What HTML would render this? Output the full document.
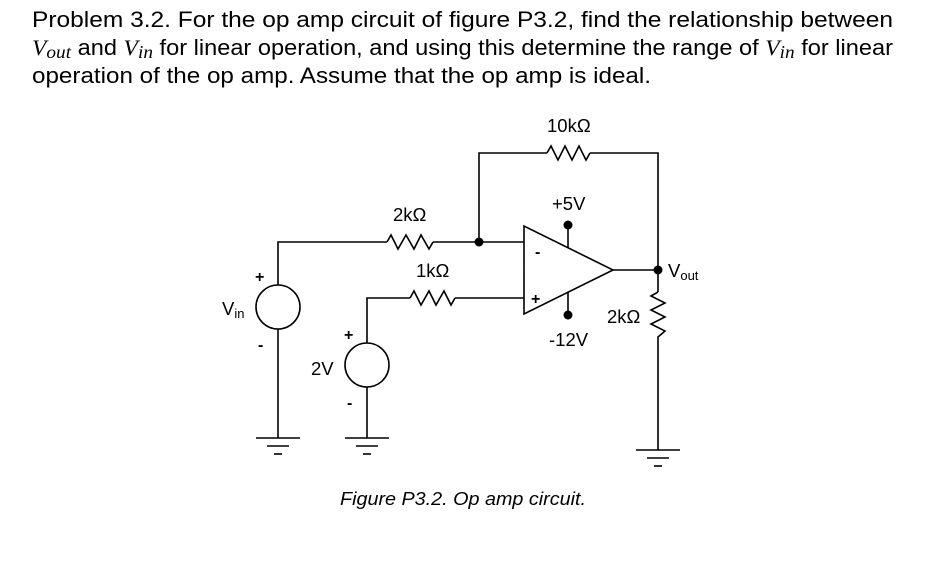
<!DOCTYPE html>
<html><head><style>
html,body{margin:0;padding:0;background:#fff;width:946px;height:583px;overflow:hidden}
svg{display:block}
text{font-family:"Liberation Sans",sans-serif;fill:#000}
.m{font-family:"Liberation Serif",serif;font-style:italic}
</style></head><body>
<svg width="946" height="583" viewBox="0 0 946 583" xmlns="http://www.w3.org/2000/svg">
<text x="32" y="27" font-size="22" textLength="861" lengthAdjust="spacingAndGlyphs">Problem 3.2. For the op amp circuit of figure P3.2, find the relationship between</text>
<text x="32" y="55" font-size="22" textLength="861" lengthAdjust="spacingAndGlyphs"><tspan class="m">V</tspan><tspan class="m" font-size="18" dy="3">out</tspan><tspan dy="-3"> and </tspan><tspan class="m">V</tspan><tspan class="m" font-size="18" dy="3">in</tspan><tspan dy="-3"> for linear operation, and using this determine the range of </tspan><tspan class="m">V</tspan><tspan class="m" font-size="18" dy="3">in</tspan><tspan dy="-3"> for linear</tspan></text>
<text x="32" y="83" font-size="22" textLength="619" lengthAdjust="spacingAndGlyphs">operation of the op amp. Assume that the op amp is ideal.</text>

<g stroke="#000" stroke-width="1.6" fill="none">
<polyline points="278,285 278,242 387,242"/>
<polyline points="387,242 391,235 398,249 406,235 414,249 421,235 429,249 433,242"/>
<line x1="433" y1="242" x2="524" y2="242"/>
<polyline points="479,242 479,153 547,153"/>
<polyline points="547,153 551,146 558,160 565,146 572,160 579,146 586,160 590,153"/>
<polyline points="590,153 658,153 658,292"/>
<circle cx="278" cy="307" r="22"/>
<line x1="278" y1="329" x2="278" y2="438"/>
<line x1="256" y1="438" x2="300" y2="438"/>
<line x1="267" y1="446" x2="289" y2="446"/>
<line x1="274" y1="454" x2="282" y2="454"/>
<polyline points="367,343 367,298 410,298"/>
<polyline points="410,298 414,291 421,305 429,291 436,305 444,291 451,305 455,298"/>
<line x1="455" y1="298" x2="524" y2="298"/>
<circle cx="367" cy="365" r="22"/>
<line x1="367" y1="387" x2="367" y2="438"/>
<line x1="345" y1="438" x2="389" y2="438"/>
<line x1="356" y1="446" x2="378" y2="446"/>
<line x1="363" y1="454" x2="371" y2="454"/>
<polygon points="524,226 524,314 613,270"/>
<line x1="613" y1="270" x2="658" y2="270"/>
<line x1="568" y1="225" x2="568" y2="248"/>
<line x1="568" y1="292" x2="568" y2="315"/>
<polyline points="658,292 651,296 665,303 651,310 665,317 651,324 665,331 658,337 658,450"/>
<line x1="636" y1="450" x2="680" y2="450"/>
<line x1="647" y1="458" x2="669" y2="458"/>
<line x1="654" y1="466" x2="662" y2="466"/>
</g>
<g fill="#000">
<circle cx="479" cy="242" r="4.5"/>
<circle cx="658" cy="270" r="4.5"/>
<circle cx="568" cy="225" r="4.5"/>
<circle cx="568" cy="315" r="4.5"/>
</g>
<g font-size="18.5">
<text x="547" y="132">10kΩ</text>
<text x="393" y="221">2kΩ</text>
<text x="416" y="277">1kΩ</text>
<text x="552" y="210">+5V</text>
<text x="549" y="346">-12V</text>
<text x="607" y="323">2kΩ</text>
<text x="311" y="375">2V</text>
<text x="668" y="277">V<tspan font-size="13" dy="3">out</tspan></text>
<text x="222" y="315">V<tspan font-size="13" dy="3">in</tspan></text>
</g>
<g font-size="16" font-weight="bold">
<text x="255" y="282">+</text>
<text x="258" y="350">-</text>
<text x="344" y="340">+</text>
<text x="347" y="408">-</text>
<text x="535" y="257">-</text>
<text x="531" y="304">+</text>
</g>
<text x="340" y="505" font-size="18" font-style="italic" textLength="246" lengthAdjust="spacingAndGlyphs">Figure P3.2. Op amp circuit.</text>
</svg>
</body></html>
